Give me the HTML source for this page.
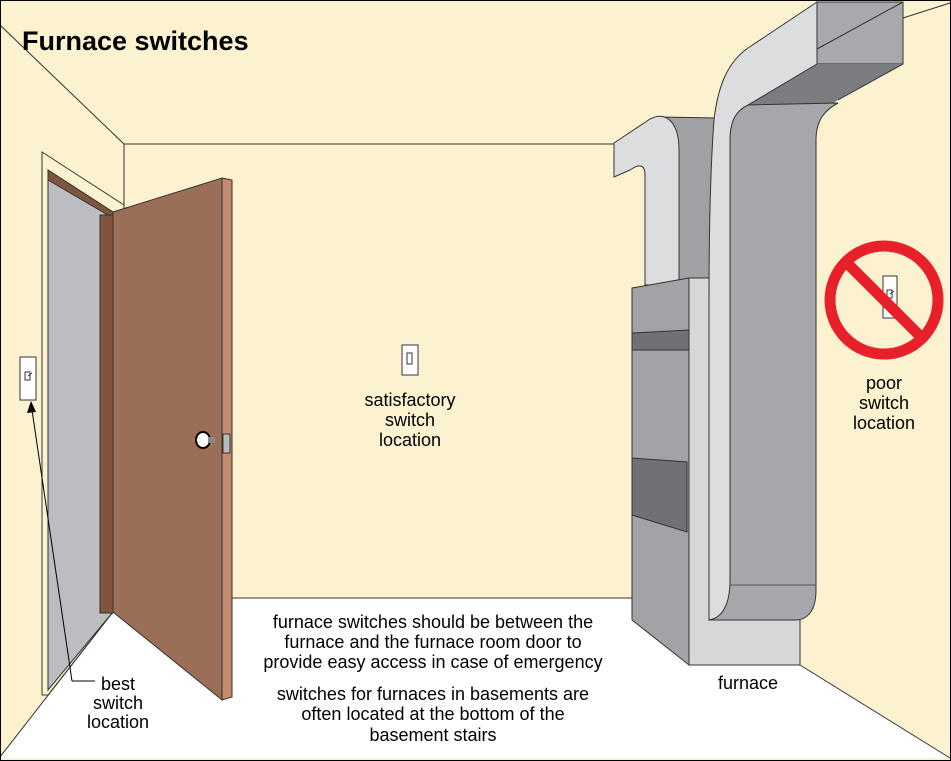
<!DOCTYPE html>
<html><head><style>body{margin:0;background:#fff}svg{display:block}text{font-family:"Liberation Sans",sans-serif;fill:#000}</style></head><body>
<svg width="951" height="761" viewBox="0 0 951 761" xmlns="http://www.w3.org/2000/svg">
<rect x="0" y="0" width="951" height="761" fill="#fdf2cf"/>
<polygon points="0,758 113,612 232,598 800,598 800,665 950,758" fill="#fff"/>
<g stroke="#333" stroke-width="1" fill="none">
<line x1="0" y1="25" x2="124" y2="144"/>
<line x1="124" y1="144" x2="614" y2="144"/>
<line x1="124" y1="144" x2="124" y2="212"/>
<line x1="232" y1="598" x2="640" y2="598"/>
<line x1="113" y1="612" x2="0" y2="757"/>
<line x1="800" y1="85" x2="800" y2="665"/>
<line x1="800" y1="665" x2="950" y2="758"/>
<line x1="903" y1="18" x2="950" y2="3"/>
</g>
<!-- left door frame -->
<polygon points="42,152 124,205 124,212 113,212 113,612 48,695 42,695" fill="#fdf2cf" stroke="#333"/>
<polygon points="48,170 113,212 113,612 48,690" fill="#bcbdc0" stroke="#333"/>
<polygon points="48,170 113,212 113,218 48,180" fill="#7f553d" stroke="#333"/>
<rect x="100" y="215" width="13" height="398" fill="#7f553d" stroke="#333"/>
<!-- door leaf -->
<polygon points="113,212 222,178 222,700 113,612" fill="#9b6e57" stroke="#333"/>
<polygon points="222,178 232,180 232,697 222,700" fill="#c48b6d" stroke="#333"/>
<ellipse cx="203" cy="440" rx="7" ry="8" fill="#fff" stroke="#000" stroke-width="2"/>
<rect x="208" y="437" width="7" height="6" fill="#888"/>
<rect x="223" y="434" width="7" height="19" fill="#bbb" stroke="#333"/>
<!-- switches -->
<rect x="20" y="357" width="16" height="43" fill="#fff" stroke="#333"/>
<path d="M25,372 h5 v8 h-5z M28,376 l4,-3" stroke="#333" fill="none"/>
<rect x="402" y="345" width="16" height="30" fill="#fff" stroke="#333"/>
<rect x="407" y="353" width="5" height="11" fill="#fff" stroke="#333"/>
<line x1="72" y1="681" x2="95" y2="681" stroke="#000"/>
<line x1="72" y1="681" x2="32" y2="410" stroke="#000"/>
<polygon points="31,401 27,413 36,412" fill="#000"/>
<!-- return duct -->
<polygon points="660,117 718,118 718,285 679,285 679,150" fill="#a0a1a4" stroke="#333"/>
<path d="M614,143 L650,119 C668,110 679,125 679,150 L679,285 L645,285 L645,175 C645,165 640,163 630,170 L614,177 Z" fill="#dcdddf" stroke="#333"/>
<!-- cabinet -->
<polygon points="689,278 800,278 800,665 689,665" fill="#d6d7d9" stroke="#333"/>
<polygon points="632,288 689,278 689,665 632,620" fill="#a2a3a6" stroke="#333"/>
<polygon points="632,333 689,330 689,350 632,350" fill="#707174" stroke="#333"/>
<polygon points="632,458 687,462 687,532 632,515" fill="#707174" stroke="#333"/>
<!-- big duct: box -->
<polygon points="817,2 903,2 903,64 817,64" fill="#a8a9ac" stroke="#333"/>
<line x1="817" y1="49" x2="903" y2="2" stroke="#333"/>
<!-- bottom face -->
<path d="M817,64 L903,64 L838,100 C828,106 820,115 816,135 L740,135 L745,105 Z" fill="#7c7d80"/>
<!-- body -->
<path d="M745,105 L838,103 C825,110 816,120 816,140 L816,590 C816,610 808,620 795,620 L709,620 L730,580 L730,130 C732,115 738,108 745,105 Z" fill="#a6a7aa" stroke="#333"/>
<path d="M838,100 L903,64" stroke="#333"/>
<line x1="730" y1="585" x2="816" y2="585" stroke="#555"/>
<!-- light strip -->
<path d="M817,2 L748,48 C728,62 718,85 714,120 C711,160 709,220 709,300 L709,620 C722,618 730,605 730,580 L730,140 C730,118 738,110 748,105 L817,64 Z" fill="#dcdddf" stroke="#333"/>
<!-- no sign -->
<rect x="883" y="276" width="14" height="42" fill="#fff" stroke="#333"/>
<path d="M887,290 h5 v8 h-5z M890,294 l4,-3" stroke="#333" fill="none"/>
<circle cx="884" cy="300" r="54" fill="none" stroke="#e8202a" stroke-width="11"/>
<line x1="848" y1="264" x2="920" y2="336" stroke="#e8202a" stroke-width="11"/>
<rect x="0.5" y="0.5" width="950" height="760" fill="none" stroke="#000"/>
<text x="22" y="50" font-size="27" font-weight="bold">Furnace switches</text>
<g font-size="18" text-anchor="middle">
<text x="410" y="406">satisfactory</text><text x="410" y="426">switch</text><text x="410" y="446">location</text>
<text x="884" y="389">poor</text><text x="884" y="409">switch</text><text x="884" y="429">location</text>
<text x="118" y="690">best</text><text x="118" y="709">switch</text><text x="118" y="728">location</text>
<text x="433" y="628">furnace switches should be between the</text>
<text x="433" y="648">furnace and the furnace room door to</text>
<text x="433" y="668">provide easy access in case of emergency</text>
<text x="433" y="700">switches for furnaces in basements are</text>
<text x="433" y="720">often located at the bottom of the</text>
<text x="433" y="741">basement stairs</text>
<text x="748" y="689">furnace</text>
</g>
</svg>
</body></html>
